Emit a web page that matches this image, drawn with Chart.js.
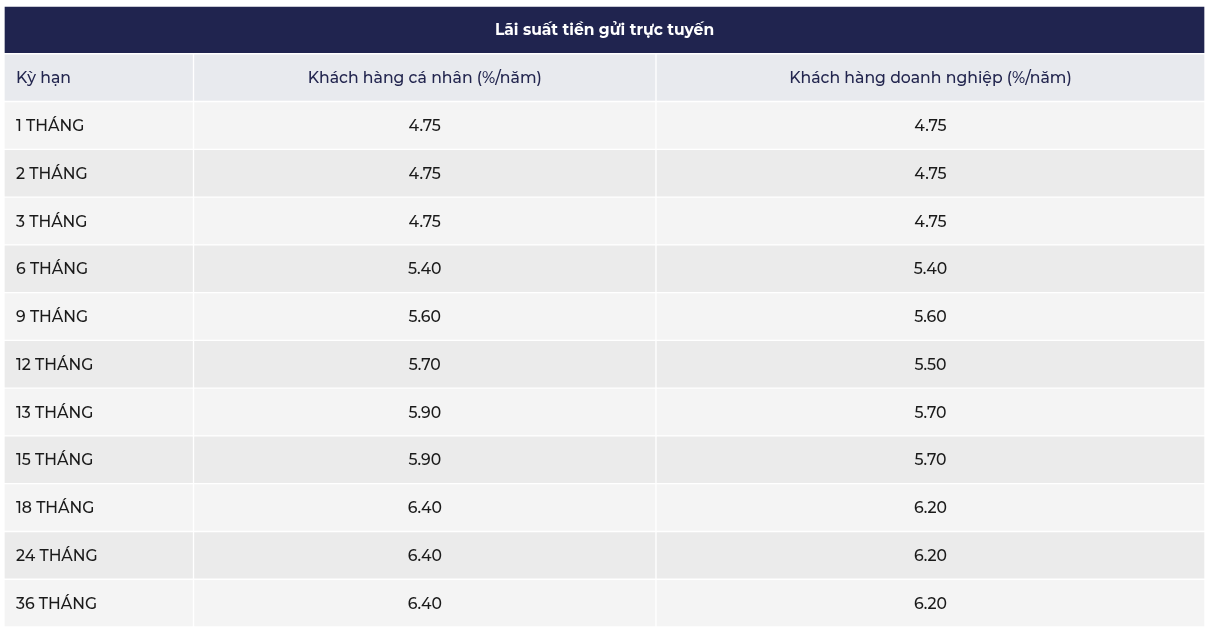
<!DOCTYPE html>
<html>
<head>
<meta charset="utf-8">
<script src="https://cdn.jsdelivr.net/npm/chart.js@4.4.0/dist/chart.umd.min.js"></script>
<style>
  body { margin: 0; background: #fff; }
  #wrap { width: 1213px; height: 634px; }
</style>
</head>
<body>
<div id="wrap"><canvas id="rateTable" width="1213" height="634"></canvas></div>
<script>
// data
const tableTitle = 'Lãi suất tiền gửi trực tuyến';
const headers = ['Kỳ hạn', 'Khách hàng cá nhân (%/năm)', 'Khách hàng doanh nghiệp (%/năm)'];
const terms = ['1 THÁNG', '2 THÁNG', '3 THÁNG', '6 THÁNG', '9 THÁNG', '12 THÁNG',
  '13 THÁNG', '15 THÁNG', '18 THÁNG', '24 THÁNG', '36 THÁNG'];
const personalRates = [4.75, 4.75, 4.75, 5.40, 5.60, 5.70, 5.90, 5.90, 6.40, 6.40, 6.40];
const businessRates = [4.75, 4.75, 4.75, 5.40, 5.60, 5.50, 5.70, 5.70, 6.20, 6.20, 6.20];

// layout: column edges in x-scale units
const colEdges = [0, 189.5, 652, 1201];
const rowKeys = ['title', 'header'].concat(terms);

const fontFamily = 'Montserrat, "Noto Sans", "Open Sans", sans-serif';

function rowColor(i) {
  if (i === 0) return '#20244f';
  if (i === 1) return '#e8eaee';
  return (i % 2 === 0) ? '#f4f4f4' : '#ebebeb';
}

function colData(c) {
  return rowKeys.map(function (k, i) {
    if (i === 0) return null;
    return [colEdges[c], colEdges[c + 1]];
  });
}

const datasets = [0, 1, 2].map(function (c) {
  return {
    data: colData(c),
    backgroundColor: rowKeys.map(function (k, i) { return rowColor(i); })
  };
});
datasets.push({
  data: rowKeys.map(function (k, i) { return i === 0 ? [colEdges[0], colEdges[3]] : null; }),
  backgroundColor: rowColor(0)
});

const cellText = {
  id: 'cellText',
  afterDatasetsDraw: function (chart) {
    const ctx = chart.ctx;
    const x = chart.scales.x;
    const y = chart.scales.y;
    ctx.save();
    ctx.textBaseline = 'middle';

    // title
    ctx.fillStyle = '#ffffff';
    ctx.font = '700 15.5px ' + fontFamily;
    ctx.textAlign = 'center';
    ctx.fillText(tableTitle, x.getPixelForValue((colEdges[0] + colEdges[3]) / 2), y.getPixelForValue(0) + 1);

    ctx.font = '500 15.7px ' + fontFamily;
    for (let i = 1; i < rowKeys.length; i++) {
      let cells;
      if (i === 1) {
        cells = headers;
        ctx.fillStyle = '#23264f';
      } else {
        const r = i - 2;
        cells = [terms[r], personalRates[r].toFixed(2), businessRates[r].toFixed(2)];
        ctx.fillStyle = '#1a1a1a';
      }
      const py = y.getPixelForValue(i) + 1;
      ctx.textAlign = 'left';
      ctx.fillText(cells[0], x.getPixelForValue(colEdges[0]) + 12, py);
      ctx.textAlign = 'center';
      ctx.fillText(cells[1], x.getPixelForValue((colEdges[1] + colEdges[2]) / 2), py);
      ctx.fillText(cells[2], x.getPixelForValue((colEdges[2] + colEdges[3]) / 2), py);
    }
    ctx.restore();
  }
};

new Chart(document.getElementById('rateTable'), {
  type: 'bar',
  data: {
    labels: rowKeys,
    datasets: datasets
  },
  options: {
    indexAxis: 'y',
    responsive: false,
    animation: false,
    layout: { padding: { left: 4, right: 8, top: 6, bottom: 7 } },
    datasets: {
      bar: {
        grouped: false,
        barPercentage: 1,
        categoryPercentage: 1,
        borderWidth: 1,
        borderColor: '#ffffff',
        borderSkipped: false
      }
    },
    scales: {
      x: { type: 'linear', min: 0, max: 1201, display: false },
      y: { type: 'category', display: false }
    },
    plugins: {
      legend: { display: false },
      tooltip: { enabled: false },
      title: { display: false }
    }
  },
  plugins: [cellText]
});
</script>
</body>
</html>
